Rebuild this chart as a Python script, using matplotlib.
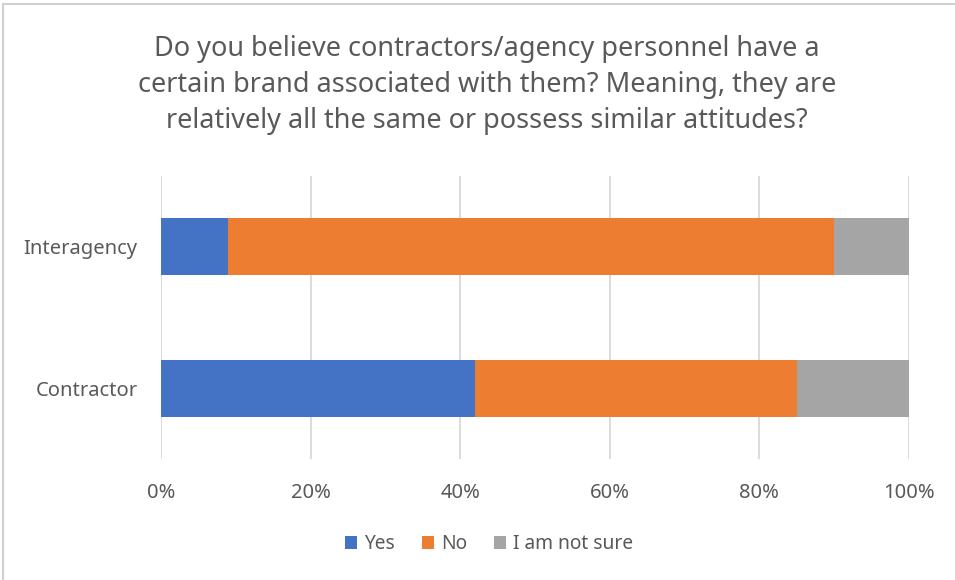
import matplotlib.pyplot as plt
from matplotlib.lines import Line2D
from matplotlib.ticker import PercentFormatter

plt.rcParams['font.family'] = ['Noto Sans', 'DejaVu Sans']

# survey answers, share of respondents in percent
groups = ['Contractor', 'Interagency']
yes = [42, 9]
no = [43, 81]
not_sure = [15, 10]

series = [('Yes', yes, '#4472C4'),
          ('No', no, '#ED7D31'),
          ('I am not sure', not_sure, '#A5A5A5')]

text_col = '#595959'

fig = plt.figure(figsize=(9.55, 5.8), dpi=100)
ax = fig.add_axes([0.1686, 0.2086, 0.7832, 0.488])

left = [0] * len(groups)
for name, vals, col in series:
    ax.barh(groups, vals, left=left, height=0.4, color=col, label=name, zorder=2)
    left = [a + b for a, b in zip(left, vals)]

ax.set_xlim(0, 100)
ax.set_ylim(-0.5, 1.5)
ax.set_xticks(range(0, 101, 20))
ax.xaxis.set_major_formatter(PercentFormatter(decimals=0))
ax.grid(axis='x', color='#D9D9D9', linewidth=1.3, zorder=0)
for s in ax.spines.values():
    s.set_visible(False)
ax.tick_params(length=0, labelsize=14.5, colors=text_col)
ax.tick_params(axis='x', pad=17)
ax.tick_params(axis='y', pad=17)

fig.text(0.51, 1 - 85 / 580,
         'Do you believe contractors/agency personnel have a\n'
         'certain brand associated with them? Meaning, they are\n'
         'relatively all the same or possess similar attitudes?',
         ha='center', va='center', fontsize=19.5, color=text_col, linespacing=1.36)

handles, labels = ax.get_legend_handles_labels()
fig.legend(handles, labels, loc='center', bbox_to_anchor=(0.512, 0.062), ncol=3,
           frameon=False, fontsize=13.8, labelcolor=text_col,
           handlelength=0.65, handleheight=0.65, handletextpad=0.35, columnspacing=1.4)

# thin chart border along the top and left edge
fig.add_artist(Line2D([3 / 955, 1], [1 - 4 / 580, 1 - 4 / 580], color='#D0D0D0', lw=1.5))
fig.add_artist(Line2D([3 / 955, 3 / 955], [0, 1 - 4 / 580], color='#D0D0D0', lw=1.5))

fig.savefig('out.png', dpi=100)
